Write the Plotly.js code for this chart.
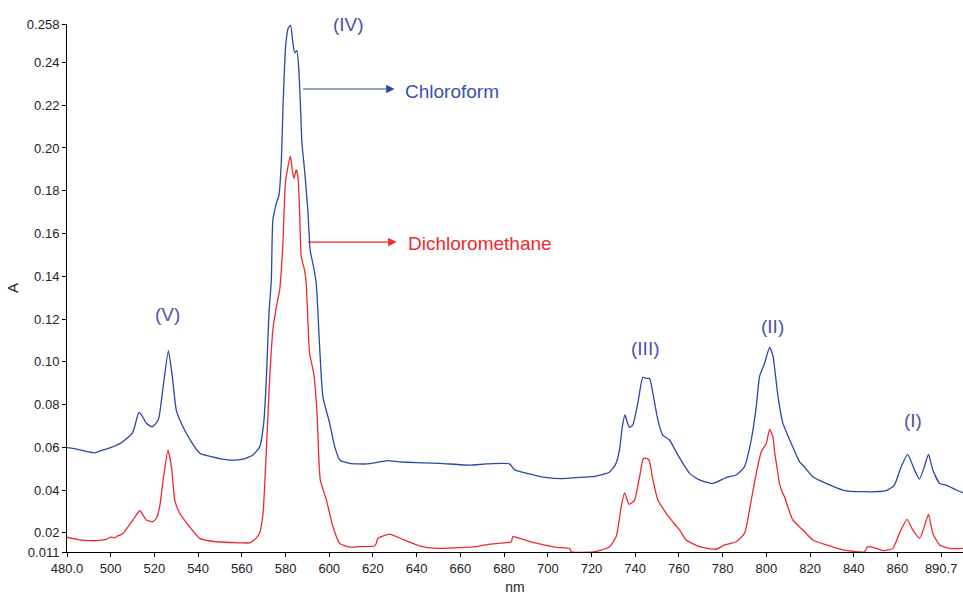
<!DOCTYPE html>
<html>
<head>
<meta charset="utf-8">
<script src="https://cdn.plot.ly/plotly-3.0.1.min.js"></script>
<style>html,body{margin:0;padding:0;background:#fff;}#chart{width:963px;height:595px;}</style>
</head>
<body>
<div id="chart"></div>
<script>
// Chloroform spectrum (blue)
const chloroformNm = [480,485,490,493,495,500,505,510,512.9,514.5,516.3,518.9,521,522.1,524.2,526.4,528.2,530,532.3,536,540.7,546,554.4,560.5,565.1,568.2,570,571.2,572.4,573.5,574.2,575.8,577,578.1,578.8,580,581.2,582.3,583.4,584.2,585.2,586.1,586.9,587.5,588.7,590.2,591.3,592.9,594.1,595.6,597.1,600.2,602.5,604.8,609.3,617,626.8,632,639.8,650.5,664.2,671.9,682.5,684.8,691.7,697.8,705.4,716,722.2,728.3,731,732.8,734.1,735.3,736.3,737.4,738.9,741.2,743.5,745.1,746.6,748.1,750.4,752.6,755.7,759.5,764.9,769.4,775.5,781.6,786.2,790,793.1,795.4,796.9,799.2,801.5,803,805.3,807.5,811.4,815.2,816.7,821.3,827.4,835,844.1,854.8,858.6,861.7,864.7,867.8,870.1,872.3,874.2,876.2,879.3,882.3,886.9,890];
const chloroformA = [0.0598,0.0590,0.0578,0.0574,0.0582,0.0598,0.0622,0.0667,0.0763,0.0745,0.0712,0.0696,0.0715,0.0740,0.0899,0.1052,0.0930,0.0774,0.0712,0.0640,0.0572,0.0556,0.0540,0.0544,0.0564,0.0603,0.0712,0.0914,0.1226,0.1382,0.1663,0.1741,0.1780,0.1943,0.2177,0.2473,0.2560,0.2575,0.2490,0.2445,0.2455,0.2364,0.2177,0.2022,0.1897,0.1710,0.1520,0.1440,0.1360,0.1070,0.0836,0.0712,0.0603,0.0540,0.0525,0.0522,0.0537,0.0532,0.0528,0.0525,0.0516,0.0522,0.0522,0.0494,0.0475,0.0460,0.0453,0.0460,0.0465,0.0484,0.0520,0.0587,0.0696,0.0751,0.0720,0.0693,0.0704,0.0806,0.0927,0.0922,0.0922,0.0852,0.0727,0.0657,0.0634,0.0564,0.0478,0.0447,0.0431,0.0458,0.0470,0.0509,0.0634,0.0790,0.0930,0.0993,0.1067,0.1030,0.0840,0.0715,0.0618,0.0532,0.0517,0.0462,0.0431,0.0400,0.0392,0.0397,0.0423,0.0509,0.0567,0.0494,0.0451,0.0509,0.0567,0.0494,0.0431,0.0423,0.0400,0.0387];

// Dichloromethane spectrum (red)
const dcmNm = [480,485,490.4,495,498,500,501.5,503,505.6,510.2,513.3,516.3,519.3,521,522.4,524.2,526.2,527.8,529.3,531.6,536.1,540.7,548.3,559,563.6,566.6,568.2,569.7,571.2,572.7,574.2,575.8,577.3,578.8,579.9,581.1,582.2,583.1,583.8,584.9,585.7,586.5,587.2,588.7,589.5,591,592.9,594.4,595.9,598.7,601.7,604.8,609.3,613.9,620.8,621.5,622.3,627.6,633.7,641.4,649,658.1,667.3,673.4,683.3,684,687.1,694.7,703.9,710,710.7,720.6,724,728.3,731.3,733.6,735.1,737.2,739.7,742,743.8,746.2,748.1,750.4,754.2,756.5,760.3,763.3,769.4,777.1,780.9,786.2,790,793.1,795.4,797.7,800,801.5,803,803.9,805.3,806,807.5,808.3,812.1,816.7,821.3,827.4,835,844.9,846.4,850.3,854,857.9,860.9,864.4,867,870.1,872.3,874.2,876.2,879.3,883.8,890];
const dcmA = [0.0179,0.0168,0.0163,0.0164,0.0169,0.0180,0.0176,0.0184,0.0197,0.0260,0.0303,0.0260,0.0252,0.0270,0.0322,0.0462,0.0587,0.0509,0.0353,0.0291,0.0228,0.0174,0.0158,0.0153,0.0153,0.0175,0.0200,0.0291,0.0580,0.0914,0.1148,0.1257,0.1335,0.1554,0.1834,0.1912,0.1962,0.1897,0.1858,0.1897,0.1865,0.1678,0.1491,0.1429,0.1360,0.1040,0.0946,0.0759,0.0447,0.0353,0.0228,0.0150,0.0133,0.0135,0.0138,0.0150,0.0174,0.0194,0.0169,0.0138,0.0127,0.0130,0.0135,0.0147,0.0158,0.0182,0.0174,0.0151,0.0132,0.0127,0.0111,0.0110,0.0118,0.0135,0.0182,0.0322,0.0387,0.0333,0.0353,0.0462,0.0548,0.0543,0.0447,0.0353,0.0291,0.0260,0.0213,0.0166,0.0135,0.0123,0.0143,0.0158,0.0197,0.0353,0.0478,0.0579,0.0618,0.0684,0.0649,0.0570,0.0478,0.0430,0.0385,0.0369,0.0260,0.0213,0.0166,0.0143,0.0120,0.0111,0.0135,0.0127,0.0116,0.0127,0.0197,0.0263,0.0213,0.0174,0.0228,0.0286,0.0197,0.0143,0.0127,0.0127];

const xTickVals = [480,500,520,540,560,580,600,620,640,660,680,700,720,740,760,780,800,820,840,860,880];
const xTickText = ["480.0","500","520","540","560","580","600","620","640","660","680","700","720","740","760","780","800","820","840","860","890.7"];
const yTickVals = [0.011,0.02,0.04,0.06,0.08,0.10,0.12,0.14,0.16,0.18,0.20,0.22,0.24,0.258];
const yTickText = ["0.011","0.02","0.04","0.06","0.08","0.10","0.12","0.14","0.16","0.18","0.20","0.22","0.24","0.258"];

const blue = '#2c48a2';
const red = '#ee2a30';
const labelBlue = '#4a55a8';
const font = 'Liberation Sans, Arial, sans-serif';

const traces = [
  {x: chloroformNm, y: chloroformA, type: 'scatter', mode: 'lines', name: 'Chloroform',
   line: {color: blue, width: 1.3, shape: 'spline', smoothing: 0.5}},
  {x: dcmNm, y: dcmA, type: 'scatter', mode: 'lines', name: 'Dichloromethane',
   line: {color: red, width: 1.3, shape: 'spline', smoothing: 0.5}}
];

function lab(x, y, text, color, size, anchor) {
  return {x: x, y: y, xref: 'x', yref: 'y', text: text, showarrow: false,
          xanchor: anchor || 'center', yanchor: 'middle',
          font: {family: font, size: size, color: color}};
}

const layout = {
  width: 963, height: 595,
  margin: {l: 67, r: 0, t: 24, b: 43},
  paper_bgcolor: '#fff', plot_bgcolor: '#fff',
  showlegend: false,
  font: {family: font, size: 13, color: '#222'},
  xaxis: {
    range: [480, 890], showgrid: false, zeroline: false,
    showline: true, linecolor: '#000', linewidth: 1,
    ticks: 'outside', ticklen: 4, tickcolor: '#000',
    tickvals: xTickVals, ticktext: xTickText,
    tickfont: {family: font, size: 13, color: '#222'},
    title: {text: 'nm', font: {family: font, size: 14, color: '#222'}, standoff: 8}
  },
  yaxis: {
    range: [0.011, 0.258], showgrid: false, zeroline: false,
    showline: true, linecolor: '#000', linewidth: 1,
    ticks: 'outside', ticklen: 4, tickcolor: '#000',
    tickvals: yTickVals, ticktext: yTickText,
    tickfont: {family: font, size: 13, color: '#222'},
    title: {text: 'A', font: {family: font, size: 15, color: '#222'}, standoff: 4}
  },
  annotations: [
    lab(608.9, 0.258, '(IV)', labelBlue, 19),
    lab(526.1, 0.1223, '(V)', labelBlue, 19),
    lab(744.7, 0.1064, '(III)', labelBlue, 19),
    lab(802.8, 0.1167, '(II)', labelBlue, 19),
    lab(867.3, 0.0723, '(I)', labelBlue, 19),
    lab(633.8, 0.2266, 'Chloroform', '#3652ad', 19, 'left'),
    lab(634.9, 0.1555, 'Dichloromethane', red, 19, 'left'),
    {x: 629.9, y: 0.2276, xref: 'x', yref: 'y', text: '', showarrow: true,
     ax: -93, ay: 0, arrowhead: 2, arrowsize: 1.4, arrowwidth: 1.2, arrowcolor: blue},
    {x: 630.8, y: 0.156, xref: 'x', yref: 'y', text: '', showarrow: true,
     ax: -90, ay: 0, arrowhead: 2, arrowsize: 1.4, arrowwidth: 1.2, arrowcolor: red}
  ]
};

Plotly.newPlot('chart', traces, layout, {displayModeBar: false, staticPlot: true});
</script>
</body>
</html>
